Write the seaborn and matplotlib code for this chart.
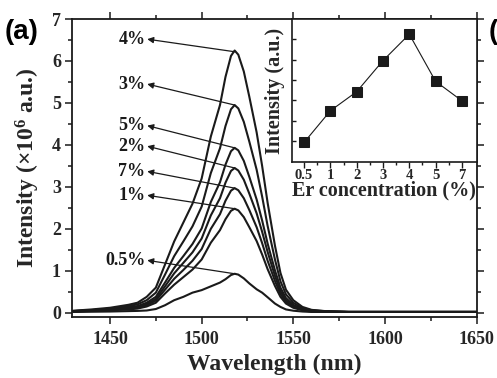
import numpy as np
import pandas as pd
import matplotlib
matplotlib.use("Agg")
import matplotlib.pyplot as plt
import seaborn as sns

# ---------------- data ----------------
wavelength = [1430, 1440, 1450, 1460, 1465, 1470, 1475, 1480, 1485, 1490, 1495, 1500, 1505,
              1510, 1513, 1516, 1518, 1520, 1523, 1526, 1530, 1533, 1536, 1540, 1543, 1546,
              1550, 1555, 1560, 1570, 1580, 1600, 1650]

conc_labels = ["4%", "3%", "5%", "2%", "7%", "1%", "0.5%"]

int_4 = [0.05, 0.08, 0.12, 0.19, 0.24, 0.38, 0.60, 1.15, 1.70, 2.15, 2.60, 3.20, 4.20,
         4.95, 5.62, 6.12, 6.25, 6.15, 5.75, 5.15, 4.30, 3.50, 2.62, 1.60, 0.95, 0.55,
         0.30, 0.14, 0.07, 0.03, 0.02, 0.02, 0.02]
int_3 = [0.04, 0.065, 0.10, 0.16, 0.20, 0.30, 0.48, 0.91, 1.35, 1.70, 2.06, 2.53, 3.33,
         3.92, 4.45, 4.85, 4.95, 4.87, 4.55, 4.08, 3.41, 2.77, 2.07, 1.27, 0.75, 0.44,
         0.24, 0.11, 0.06, 0.03, 0.02, 0.02, 0.02]
int_5 = [0.04, 0.06, 0.09, 0.13, 0.16, 0.24, 0.38, 0.72, 1.07, 1.35, 1.64, 2.01, 2.64,
         3.11, 3.53, 3.85, 3.93, 3.87, 3.62, 3.24, 2.70, 2.20, 1.65, 1.01, 0.60, 0.35,
         0.19, 0.09, 0.05, 0.03, 0.02, 0.02, 0.02]
int_2 = [0.035, 0.055, 0.08, 0.11, 0.14, 0.21, 0.33, 0.63, 0.94, 1.19, 1.44, 1.77, 2.32,
         2.73, 3.10, 3.38, 3.45, 3.39, 3.17, 2.84, 2.37, 1.93, 1.45, 0.88, 0.52, 0.30,
         0.17, 0.08, 0.04, 0.03, 0.02, 0.02, 0.02]
int_7 = [0.03, 0.05, 0.07, 0.10, 0.12, 0.18, 0.29, 0.55, 0.81, 1.02, 1.24, 1.52, 2.00,
         2.35, 2.67, 2.91, 2.97, 2.92, 2.73, 2.45, 2.04, 1.66, 1.24, 0.76, 0.45, 0.26,
         0.14, 0.07, 0.04, 0.03, 0.02, 0.02, 0.02]
int_1 = [0.03, 0.045, 0.06, 0.08, 0.10, 0.15, 0.24, 0.46, 0.67, 0.85, 1.03, 1.27, 1.67,
         1.97, 2.23, 2.43, 2.48, 2.44, 2.28, 2.04, 1.71, 1.39, 1.04, 0.64, 0.38, 0.22,
         0.12, 0.06, 0.03, 0.02, 0.02, 0.02, 0.02]
int_05 = [0.02, 0.025, 0.03, 0.04, 0.045, 0.055, 0.09, 0.18, 0.30, 0.38, 0.48, 0.54, 0.63,
          0.72, 0.80, 0.90, 0.93, 0.91, 0.82, 0.70, 0.56, 0.48, 0.37, 0.22, 0.14, 0.08,
          0.05, 0.03, 0.02, 0.02, 0.02, 0.02, 0.02]

# label positions (y of each text) and peaks the arrows start from
label_y = [6.52, 5.45, 4.46, 3.97, 3.37, 2.80, 1.25]
peak_y = [6.22, 4.95, 3.93, 3.45, 2.97, 2.48, 0.93]

# inset data
inset_conc = ["0.5", "1", "2", "3", "4", "5", "7"]
inset_int = [0.92, 2.48, 3.42, 4.95, 6.25, 3.93, 2.97]

# ---------------- style ----------------
sns.set_style("ticks")
plt.rcParams["font.family"] = ["Liberation Serif", "DejaVu Serif"]
plt.rcParams["font.weight"] = "bold"
plt.rcParams["mathtext.fontset"] = "custom"
plt.rcParams["mathtext.rm"] = "Liberation Serif:bold"
plt.rcParams["mathtext.bf"] = "Liberation Serif:bold"
plt.rcParams["mathtext.default"] = "bf"

INK = "#1a1a1a"

fig = plt.figure(figsize=(4.97, 3.78), dpi=100)
ax = fig.add_axes([0.1449, 0.1614, 0.8139, 0.7883])

rows = []
series = [int_4, int_3, int_5, int_2, int_7, int_1, int_05]
for lab, vals in zip(conc_labels, series):
    for w, v in zip(wavelength, vals):
        rows.append({"wl": w, "I": v, "conc": lab})
df = pd.DataFrame(rows)

sns.lineplot(data=df, x="wl", y="I", hue="conc", palette=[INK] * len(conc_labels),
             estimator=None, sort=False, legend=False, lw=1.5, ax=ax)
for ln in ax.get_lines():
    ln.set_solid_joinstyle("round")

ax.set_xlim(1429.25, 1650)
ax.set_ylim(-0.1, 7)
ax.set_xticks([1450, 1500, 1550, 1600, 1650])
ax.set_xticks([1475, 1525, 1575, 1625], minor=True)
ax.set_yticks(range(0, 8))
ax.set_yticks(np.arange(0.5, 7, 1.0), minor=True)
ax.tick_params(which="both", direction="out", top=True, right=True, color=INK, width=1.1)
ax.tick_params(which="major", length=5)
ax.tick_params(which="minor", length=3)
ax.tick_params(axis="x", which="major", labelsize=13, pad=5)
ax.tick_params(axis="y", which="major", labelsize=13, pad=3)
for s in ax.spines.values():
    s.set_linewidth(1.3)
    s.set_color(INK)

ax.set_xlabel("Wavelength (nm)", fontsize=17, fontweight="bold", labelpad=4)
ax.set_ylabel(r"Intensity ($\times$10$^{6}$ a.u.)", fontsize=17, fontweight="bold", labelpad=7)

for lab, ly, py in zip(conc_labels, label_y, peak_y):
    ax.annotate("", xy=(1470.3, ly), xytext=(1518, py),
                arrowprops=dict(arrowstyle="-|>", color=INK, lw=0.9,
                                mutation_scale=9, shrinkA=0, shrinkB=0))
    ax.text(1469.3, ly, lab, ha="right", va="center", fontsize=13,
            fontweight="bold", color=INK)

fig.text(0.010, 0.915, "(a)", family="Liberation Sans", fontsize=20,
         fontweight="bold", color="black", ha="left", va="center")
fig.text(0.983, 0.915, "(", family="Liberation Sans", fontsize=20,
         fontweight="bold", color="black", ha="left", va="center")

# ---------------- inset ----------------
axi = fig.add_axes([0.587, 0.5706, 0.372, 0.3791])
idf = pd.DataFrame({"pos": list(range(len(inset_conc))), "I": inset_int})
sns.lineplot(data=idf, x="pos", y="I", color=INK, lw=0.8, marker="s",
             markersize=7.5, markeredgecolor=INK, markerfacecolor=INK, ax=axi)
axi.set_xlim(-0.47, 6.56)
axi.set_ylim(-0.06, 7.0)
axi.set_xticks(range(len(inset_conc)))
axi.set_xticklabels(inset_conc)
axi.set_xticks(np.arange(0.5, 6, 1.0), minor=True)
axi.set_yticks(range(1, 7))
axi.set_yticklabels([])
axi.tick_params(axis="x", which="both", direction="out", color=INK, width=1.0,
                labelsize=10.5, pad=1)
axi.tick_params(axis="x", which="major", length=4)
axi.tick_params(axis="x", which="minor", length=2.5)
axi.tick_params(axis="y", which="major", direction="in", length=3, color=INK, width=1.0)
for s in axi.spines.values():
    s.set_linewidth(1.2)
    s.set_color(INK)
axi.set_xlabel("Er concentration (%)", fontsize=14.5, fontweight="bold", labelpad=-1)
axi.set_ylabel("Intensity (a.u.)", fontsize=14.5, fontweight="bold", labelpad=1)

fig.savefig("out.png", dpi=100)
